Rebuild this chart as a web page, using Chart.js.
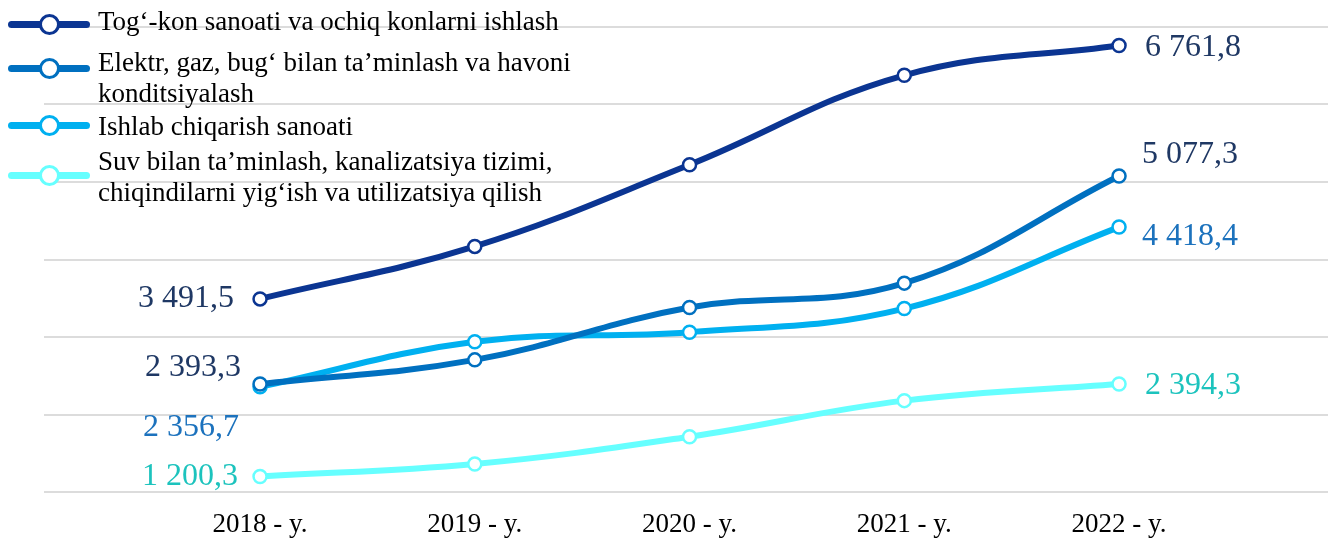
<!DOCTYPE html>
<html lang="uz">
<head>
    <meta charset="UTF-8">
    <title>Tarmoqlar bo'yicha dinamika</title>
    <style>
        body {
            margin: 0;
            background: #fff;
        }

        /* chart box, same size as the window */
        .wrap {
            position: relative;
            width: 1328px;
            height: 539px;
        }

        /* legend sits on top of the canvas, top-left */
        .legend {
            position: absolute;
            left: 0;
            top: 0;
            font-family: 'Liberation Serif', 'Times New Roman', serif;
            font-size: 27px;
            line-height: 31px;
            color: #000;
        }

        .legend .item {
            position: absolute;
            left: 0;
        }

        .legend .mark {
            position: absolute;
            left: 8px;
            width: 82px;
            height: 7px;
            border-radius: 4px;
        }

        .legend .mark span {
            position: absolute;
            left: 31px;
            top: -7px;
            width: 15px;
            height: 15px;
            border-radius: 50%;
            background: #fff;
            border: 3px solid;
        }

        .legend .text {
            position: absolute;
            left: 98px;
            width: 490px;
            white-space: normal;
        }
    </style>
    <script src="https://cdn.jsdelivr.net/npm/chart.js"></script>
</head>
<body>
    <div class="wrap">
        <canvas id="lineChart"></canvas>
        <div class="legend" id="legend"></div>
    </div>

    <script>
        // data (thousand units, y-axis in steps of 1000)
        const years = [2018, 2019, 2020, 2021, 2022];
        const seriesNames = [
            'Tog‘-kon sanoati va ochiq konlarni ishlash',
            'Elektr, gaz, bug‘ bilan ta’minlash va havoni konditsiyalash',
            'Ishlab chiqarish sanoati',
            'Suv bilan ta’minlash, kanalizatsiya tizimi, chiqindilarni yig‘ish va utilizatsiya qilish'
        ];
        const togKon = [3491.5, 4169, 5223, 6377, 6761.8];
        const elektr = [2393.3, 2705, 3380, 3695, 5077.3];
        const ishlab = [2356.7, 2938, 3062, 3367, 4418.4];
        const suv = [1200.3, 1362, 1714, 2179, 2394.3];
        const yTicks = [1000, 2000, 3000, 4000, 5000, 6000, 7000];

        const lineColors = ['#0b3592', '#0070c0', '#00b0f0', '#66ffff'];
        const labelColors = ['#1f3864', '#1f3864', '#1c72bd', '#1cc3bd'];

        // where the first / last value labels go, relative to the point
        const labelOffsets = [
            { first: [-26, 0], last: [26, 2] },
            { first: [-19, -16], last: [23, -21] },
            { first: [-21, 41], last: [23, 10] },
            { first: [-22, 0], last: [26, 2] }
        ];

        // legend layout: marker centre y, text top
        const legendRows = [
            { mark: 24, text: 6 },
            { mark: 68, text: 47 },
            { mark: 125, text: 111 },
            { mark: 175, text: 146 }
        ];

        function fmt(v) {
            const parts = v.toFixed(1).split('.');
            return parts[0].replace(/\B(?=(\d{3})+(?!\d))/g, ' ') + ',' + parts[1];
        }

        // html legend
        const legendEl = document.getElementById('legend');
        seriesNames.forEach((name, i) => {
            const row = document.createElement('div');
            row.className = 'item';
            row.innerHTML =
                '<div class="mark" style="top:' + (legendRows[i].mark - 3.5) + 'px;background:' + lineColors[i] + '">' +
                '<span style="border-color:' + lineColors[i] + '"></span></div>' +
                '<div class="text" style="top:' + legendRows[i].text + 'px">' + name + '</div>';
            legendEl.appendChild(row);
        });

        const allSeries = [togKon, elektr, ishlab, suv];

        // draws the values next to the first and last points
        const endLabels = {
            id: 'endLabels',
            afterDatasetsDraw(chart) {
                const c = chart.ctx;
                c.save();
                c.font = '32px "Liberation Serif", "Times New Roman", serif';
                c.textBaseline = 'middle';
                allSeries.forEach((vals, i) => {
                    const pts = chart.getDatasetMeta(i).data;
                    const first = pts[0], last = pts[pts.length - 1];
                    c.fillStyle = labelColors[i];
                    c.textAlign = 'right';
                    c.fillText(fmt(vals[0]), first.x + labelOffsets[i].first[0], first.y + labelOffsets[i].first[1]);
                    c.textAlign = 'left';
                    c.fillText(fmt(vals[vals.length - 1]), last.x + labelOffsets[i].last[0], last.y + labelOffsets[i].last[1]);
                });
                c.restore();
            }
        };

        const ctx = document.getElementById('lineChart').getContext('2d');
        const lineChart = new Chart(ctx, {
            type: 'line',
            data: {
                datasets: allSeries.map((vals, i) => ({
                    label: seriesNames[i],
                    data: years.map((y, j) => ({ x: y, y: vals[j] })),
                    borderColor: lineColors[i],
                    borderWidth: 6,
                    tension: 0.4,
                    pointRadius: 6.5,
                    pointBorderWidth: 2.5,
                    pointBackgroundColor: '#fff',
                    pointBorderColor: lineColors[i],
                    clip: false
                }))
            },
            options: {
                responsive: true,
                maintainAspectRatio: false,
                animation: false,
                layout: {
                    autoPadding: false,
                    padding: { left: 44, right: 0, top: 27, bottom: 0 }
                },
                plugins: {
                    legend: { display: false },
                    tooltip: { enabled: false }
                },
                scales: {
                    x: {
                        type: 'linear',
                        min: 2016.994,
                        max: 2022.973,
                        grid: { display: false },
                        border: { display: false },
                        afterBuildTicks: (scale) => {
                            scale.ticks = years.map(v => ({ value: v }));
                        },
                        afterFit: (scale) => { scale.height = 47; },
                        ticks: {
                            autoSkip: false,
                            maxRotation: 0,
                            padding: 9,
                            color: '#000',
                            font: { family: "'Liberation Serif', 'Times New Roman', serif", size: 27 },
                            callback: (v) => v + ' - y.'
                        }
                    },
                    y: {
                        min: yTicks[0],
                        max: yTicks[yTicks.length - 1],
                        afterBuildTicks: (scale) => {
                            scale.ticks = yTicks.map(v => ({ value: v }));
                        },
                        afterFit: (scale) => { scale.width = 0; },
                        grid: { color: '#dcdcdc', lineWidth: 2, drawTicks: false },
                        border: { display: false },
                        ticks: { display: false }
                    }
                }
            },
            plugins: [endLabels]
        });
    </script>
</body>
</html>
